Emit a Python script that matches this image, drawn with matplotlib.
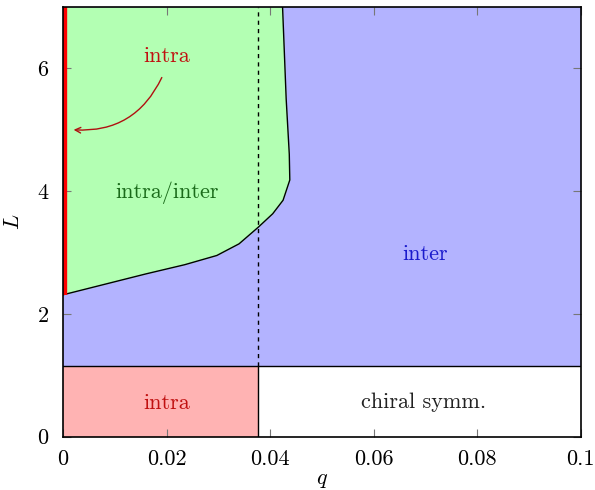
import matplotlib
matplotlib.use('Agg')
import matplotlib.pyplot as plt

plt.rcParams['font.family'] = 'serif'
plt.rcParams['font.serif'] = ['cmr10', 'DejaVu Serif']
plt.rcParams['mathtext.fontset'] = 'cm'
plt.rcParams['axes.formatter.use_mathtext'] = True

# phase boundaries
q_max = 0.1
L_max = 7.0
L_chiral = 1.15
q_crit = 0.0377

# intra/inter boundary (q, L)
bnd_q = [0.0, 0.008, 0.016, 0.0235, 0.0297, 0.034, 0.0377, 0.0405, 0.0425, 0.0438, 0.0437, 0.0431, 0.0424]
bnd_L = [2.31, 2.48, 2.65, 2.80, 2.95, 3.14, 3.41, 3.63, 3.85, 4.18, 4.60, 5.50, 7.0]

xticks = [0, 0.02, 0.04, 0.06, 0.08, 0.1]
xticklabels = ['0', '0.02', '0.04', '0.06', '0.08', '0.1']
yticks = [0, 2, 4, 6]

green = '#b3ffb3'
blue = '#b3b3ff'
pink = '#ffb3b3'
fs = 16


def main():
    fig = plt.figure(figsize=(5.95, 4.9), dpi=100)
    ax = fig.add_axes([0.106, 0.109, 0.87, 0.877])

    # inter region (background above chiral line)
    ax.fill_between([0, q_max], L_chiral, L_max, color=blue, lw=0)
    # intra/inter region
    ax.fill_betweenx(bnd_L, 0, bnd_q, color=green, lw=0)
    ax.plot(bnd_q, bnd_L, color='black', lw=1.0)
    # intra region below chiral line
    ax.fill_between([0, q_crit], 0, L_chiral, color=pink, lw=0)

    ax.axhline(L_chiral, color='black', lw=1.0)
    ax.plot([q_crit, q_crit], [0, L_chiral], color='black', lw=1.0)
    ax.plot([q_crit, q_crit], [L_chiral, L_max], color='black', lw=1.0,
            ls=(0, (3, 3)))
    ax.plot([0, 0], [bnd_L[0], L_max], color='red', lw=6,
            solid_capstyle='butt')

    ax.text(0.020, 6.19, 'intra', color='#c01010', ha='center', va='center', fontsize=fs)
    ax.annotate('', xy=(0.0015, 5.0), xytext=(0.0193, 5.89),
                arrowprops=dict(arrowstyle='->', color='#b01010', lw=1.0,
                                connectionstyle='arc3,rad=-0.35'))
    ax.text(0.020, 3.98, 'intra/inter', color='#1a6b1a', ha='center', va='center', fontsize=fs)
    ax.text(0.0699, 2.97, 'inter', color='#1a1acc', ha='center', va='center', fontsize=fs)
    ax.text(0.020, 0.54, 'intra', color='#c01010', ha='center', va='center', fontsize=fs)
    ax.text(0.0697, 0.56, 'chiral symm.', color='#222222', ha='center', va='center', fontsize=fs)

    ax.set_xlim(0, q_max)
    ax.set_ylim(0, L_max)
    ax.set_xticks(xticks)
    ax.set_xticklabels(xticklabels)
    ax.set_yticks(yticks)
    ax.tick_params(direction='in', top=True, right=True, length=6,
                   color='#777777', labelsize=fs)
    ax.tick_params(axis='x', pad=9)
    ax.tick_params(axis='y', pad=10)
    ax.set_xlabel('$q$', fontsize=fs, labelpad=1)
    ax.set_ylabel('$L$', fontsize=fs, labelpad=10)
    for s in ax.spines.values():
        s.set_linewidth(1.2)
        s.set_zorder(5)

    fig.savefig('out.png', dpi=100)
    plt.close(fig)


if __name__ == '__main__':
    main()
